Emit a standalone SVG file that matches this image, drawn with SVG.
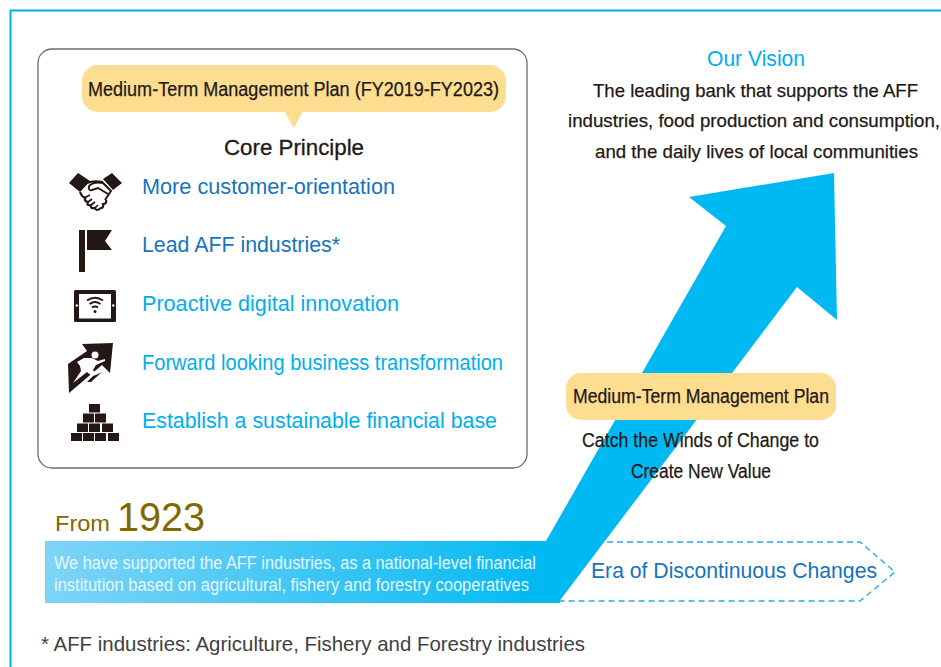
<svg xmlns="http://www.w3.org/2000/svg" width="941" height="667" viewBox="0 0 941 667">
<style>
text{font-family:"Liberation Sans",Arial,sans-serif}
.k{fill:#231815;stroke:#231815;stroke-width:.3}
.d{fill:#231815;font-size:20px;stroke:#231815;stroke-width:.25}
.v{fill:#231815;font-size:19px;stroke:#231815;stroke-width:.25}
.b1{fill:#1673bd;font-size:22px}
.b2{fill:#00aeef;font-size:22px}
.icon{fill:#231815}
.line{fill:none;stroke:#231815}
</style>
<defs>
<linearGradient id="band" x1="45" y1="0" x2="560" y2="0" gradientUnits="userSpaceOnUse">
<stop offset="0" stop-color="#7fd4f7"/><stop offset="1" stop-color="#00b9f2"/>
</linearGradient>
</defs>
<rect width="941" height="667" fill="#fff"/>
<path d="M10.500 667V10.500H941" fill="none" stroke="#00aeef" stroke-width="2"/>
<g id="core-box">
<rect x="38" y="49" width="489" height="419" rx="14" fill="#fff" stroke="#6d6e71" stroke-width="1.300"/>
<path d="M284 111H303L294 128Z" fill="#fddd8f"/>
<rect x="82" y="65" width="424" height="47" rx="16" fill="#fddd8f"/>
<text x="88" y="96" class="d" textLength="411" lengthAdjust="spacingAndGlyphs">Medium-Term Management Plan (FY2019-FY2023)</text>
<text x="224" y="155" class="k" font-size="22" textLength="140" lengthAdjust="spacingAndGlyphs">Core Principle</text>
</g>
<g id="principle-1">
<path class="icon" d="M69 183L78 173L90 181L80 192ZM122 183L112 173L103 179L113 190Z"/>
<path class="line" stroke-width="2" d="M80 190L87 183Q93 180 103 182M89 186Q94 181 103 183L111 191L105 200M89 186Q88 191 92 190L98 188L108 194"/>
<path class="line" stroke-width="2.200" d="M80 192Q83 199 86 197Q83 201 88 202Q86 206 91 205Q90 209 95 208Q96 212 101 208Q104 208 103 204Q107 204 106 200"/>
<path class="line" stroke-width="1.600" d="M86 197l4-2M88 202l4-3M91 205l4-3M95 208l3-3"/>
<text x="142" y="194" class="b1" textLength="253" lengthAdjust="spacingAndGlyphs">More customer-orientation</text>
</g>
<g id="principle-2">
<path class="icon" d="M79 230H85V272H79ZM87 230H112L105 241L112 250H87Z"/>
<text x="142" y="252" class="b1" textLength="198" lengthAdjust="spacingAndGlyphs">Lead AFF industries*</text>
</g>
<g id="principle-3">
<rect x="74" y="290" width="42" height="32" rx="1.500" fill="#231815"/>
<rect x="79" y="294" width="32" height="24.500" fill="#fff"/>
<circle cx="76.800" cy="305.500" r="1.200" fill="#fff"/><circle cx="113.300" cy="305.500" r="1.200" fill="#fff"/>
<path class="line" stroke-width="1.800" d="M87 300.500Q95 295 103 300.500M89.500 304Q95 300 100.500 304M92 307.500Q95 305.500 98 307.500"/>
<circle cx="95" cy="311.500" r="1.500" fill="#231815"/>
<text x="142" y="311" class="b2" textLength="257" lengthAdjust="spacingAndGlyphs">Proactive digital innovation</text>
</g>
<g id="principle-4">
<path class="icon" d="M82 344L113 343L110 373L102 365L69 393L68 364L87 351Z"/>
<path d="M73 383L81 371L80 366L77 362L84 358L92 358L98 361L105 359L105 361L96 365L93 370L97 375L93 377L87 372Z" fill="#fff"/>
<circle cx="95" cy="355" r="3.500" fill="#fff"/>
<path class="icon" d="M93 376L98 374L102 372L91 382L87 382Z"/>
<text x="142" y="370" class="b2" textLength="361" lengthAdjust="spacingAndGlyphs">Forward looking business transformation</text>
</g>
<g id="principle-5">
<path class="icon" d="M89 404H100V412.500H89ZM83 413.500H94V422.500H83ZM95 413.500H106V422.500H95ZM77 423.500H88V432H77ZM89 423.500H100V432H89ZM102 423.500H113V432H102ZM71 433H82V441H71ZM83 433H94V441H83ZM95 433H106V441H95ZM108 433H119V441H108Z"/>
<text x="142" y="428" class="b2" textLength="355" lengthAdjust="spacingAndGlyphs">Establish a sustainable financial base</text>
</g>
<g id="band-group">
<rect x="45" y="541" width="515" height="62" fill="url(#band)"/>
<path d="M558 603L797 287L837 320L834 173L689 197L726 226L546 541H520V603Z" fill="#00b9f2"/>
<text x="55" y="531" fill="#806a00" font-size="22" textLength="55" lengthAdjust="spacingAndGlyphs">From</text>
<text x="117" y="531" fill="#806a00" font-size="40" textLength="88" lengthAdjust="spacingAndGlyphs">1923</text>
<text x="54" y="569" fill="#e6f7fd" font-size="17.500" textLength="482" lengthAdjust="spacingAndGlyphs">We have supported the AFF industries, as a national-level financial</text>
<text x="54" y="591" fill="#e6f7fd" font-size="17.500" textLength="475" lengthAdjust="spacingAndGlyphs">institution based on agricultural, fishery and forestry cooperatives</text>
</g>
<g id="era">
<path d="M607 542H860L895 572L860 601H559" fill="none" stroke="#29abe2" stroke-width="1.400" stroke-dasharray="6 4"/>
<text x="591" y="578" class="b1" textLength="286" lengthAdjust="spacingAndGlyphs">Era of Discontinuous Changes</text>
</g>
<g id="plan">
<rect x="566" y="373" width="270" height="47" rx="15" fill="#fddd8f"/>
<text x="573" y="403" class="d" textLength="256" lengthAdjust="spacingAndGlyphs">Medium-Term Management Plan</text>
<text x="582" y="447" class="d" textLength="237" lengthAdjust="spacingAndGlyphs">Catch the Winds of Change to</text>
<text x="631" y="478" class="d" textLength="140" lengthAdjust="spacingAndGlyphs">Create New Value</text>
</g>
<g id="vision">
<text x="707" y="66" fill="#00aeef" font-size="22" textLength="98" lengthAdjust="spacingAndGlyphs">Our Vision</text>
<text x="593" y="96.500" class="v" textLength="325" lengthAdjust="spacingAndGlyphs">The leading bank that supports the AFF</text>
<text x="568" y="126.500" class="v" style="font-size:18.400px" textLength="372" lengthAdjust="spacingAndGlyphs">industries, food production and consumption,</text>
<text x="595" y="157.500" class="v" textLength="323" lengthAdjust="spacingAndGlyphs">and the daily lives of local communities</text>
</g>
<text x="41" y="651" fill="#414042" font-size="21" textLength="544" lengthAdjust="spacingAndGlyphs">* AFF industries: Agriculture, Fishery and Forestry industries</text>
</svg>
